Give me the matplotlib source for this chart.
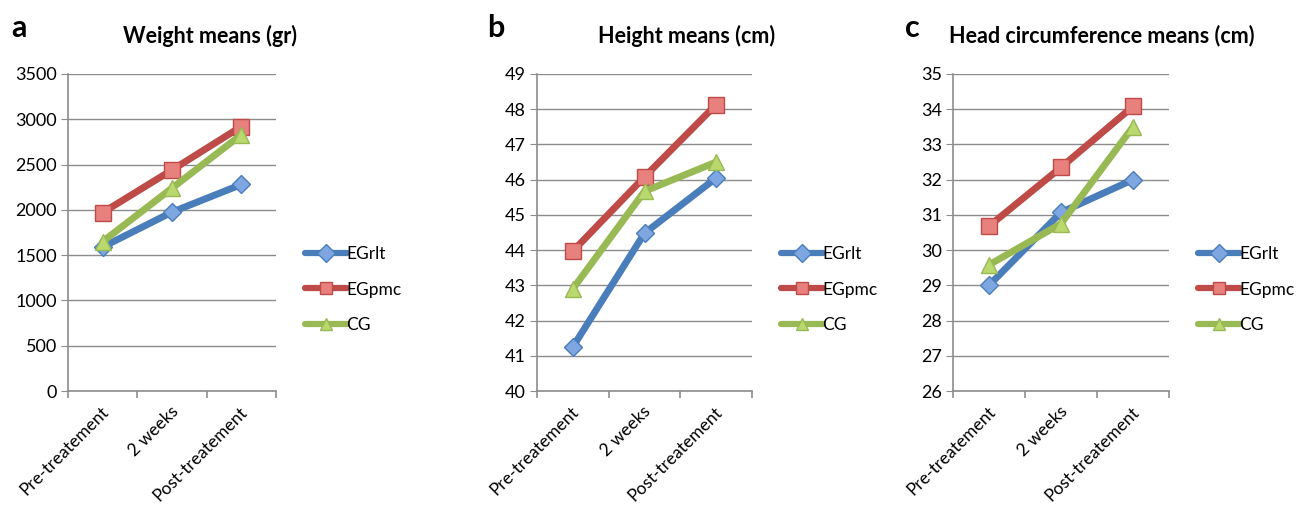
import numpy as np
import matplotlib
matplotlib.use("Agg")
import matplotlib.pyplot as plt
from matplotlib.ticker import MultipleLocator, FixedLocator

plt.rcParams['font.family'] = ['Lato', 'DejaVu Sans']

categories = ['Pre-treatement', '2 weeks', 'Post-treatement']
series_names = ['EGrlt', 'EGpmc', 'CG']

weight_egrlt = [1590, 1975, 2280]
weight_egpmc = [1970, 2440, 2920]
weight_cg = [1650, 2240, 2830]

height_egrlt = [41.25, 44.48, 46.05]
height_egpmc = [43.97, 46.08, 48.13]
height_cg = [42.9, 45.67, 46.5]

head_egrlt = [29.0, 31.07, 32.0]
head_egpmc = [30.68, 32.35, 34.08]
head_cg = [29.58, 30.75, 33.5]

titles = ['Weight means (gr)', 'Height means (cm)', 'Head circumference means (cm)']
letters = ['a', 'b', 'c']
ylims = [(0, 3500, 500), (40, 49, 1), (26, 35, 1)]
panel_data = [
    [weight_egrlt, weight_egpmc, weight_cg],
    [height_egrlt, height_egpmc, height_cg],
    [head_egrlt, head_egpmc, head_cg],
]

line_colors = ['#4a7ebb', '#be4b48', '#98b954']
marker_faces = ['#7ea6e0', '#e8807d', '#b9d86e']
markers = ['D', 's', '^']
marker_sizes = [9, 12, 12]

fig = plt.figure(figsize=(12.96, 5.08), dpi=100)

# axes rectangles in pixels: left, right
ax_px = [(68, 276), (537, 752), (953, 1169)]
title_cx = [210, 687, 1102]
letter_x = [11, 487, 905]
W, H = 1296, 508
top_px, bot_px = 74, 391

for i in range(3):
    l, r = ax_px[i]
    ax = fig.add_axes([l / W, 1 - bot_px / H, (r - l) / W, (bot_px - top_px) / H])
    x = np.arange(len(categories))
    for j in range(3):
        ax.plot(x, panel_data[i][j], color=line_colors[j], lw=5, solid_capstyle='round',
                marker=markers[j], ms=marker_sizes[j], mfc=marker_faces[j],
                mec=line_colors[j], mew=1, label=series_names[j], zorder=3 + j * 0.1)
    lo, hi, step = ylims[i]
    ax.set_ylim(lo, hi)
    ax.set_xlim(-0.5, 2.5)
    ax.yaxis.set_major_locator(MultipleLocator(step))
    ax.grid(axis='y', color='#8c8c8c', lw=1)
    ax.set_axisbelow(True)
    for s in ['top', 'right']:
        ax.spines[s].set_visible(False)
    for s in ['left', 'bottom']:
        ax.spines[s].set_color('#8c8c8c')
        ax.spines[s].set_linewidth(1.2)
    ax.tick_params(axis='y', length=5, color='#8c8c8c', labelsize=13, pad=3)
    ax.set_xticks(x)
    ax.set_xticklabels(categories, rotation=45, ha='right', va='top',
                       rotation_mode='anchor', fontsize=12.5)
    ax.tick_params(axis='x', which='major', length=0, pad=9)
    ax.xaxis.set_minor_locator(FixedLocator([-0.5, 0.5, 1.5, 2.5]))
    ax.tick_params(axis='x', which='minor', length=5, color='#8c8c8c', width=1.2)
    for lab in ax.get_xticklabels():
        lab.set_transform(lab.get_transform() + matplotlib.transforms.ScaledTranslation(-0.02, 0, fig.dpi_scale_trans))

    leg = ax.legend(loc='center left', bbox_to_anchor=((r - l + 22) / (r - l), 0.32),
                    frameon=False, fontsize=12.5, handlelength=2.4, handletextpad=0.0,
                    labelspacing=1.1, borderaxespad=0)
    for h in leg.legend_handles:
        h.set_linewidth(4.5)
        h.set_markersize(9)

    fig.text(title_cx[i] / W, 1 - 36 / H, titles[i], ha='center', va='center',
             fontsize=15.5, fontweight='bold')
    fig.text(letter_x[i] / W, 1 - 28 / H, letters[i], ha='left', va='center',
             fontsize=22, fontweight='bold')

fig.savefig('out.png', dpi=100)
